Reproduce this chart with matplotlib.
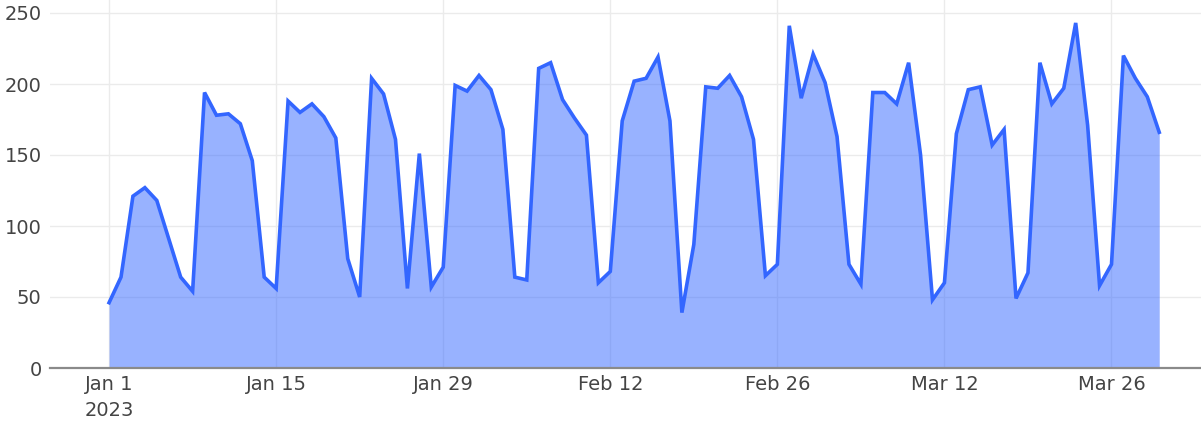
import numpy as np
import pandas as pd
import matplotlib
matplotlib.use('Agg')
import matplotlib.pyplot as plt

# daily values, Jan 1 2023 - Mar 30 2023
values = [46, 64, 121, 127, 118, 91, 64, 54, 194, 178,
          179, 172, 146, 64, 56, 188, 180, 186, 177, 162,
          77, 50, 204, 193, 161, 56, 151, 57, 71, 199,
          195, 206, 196, 168, 64, 62, 211, 215, 189, 176,
          164, 60, 68, 174, 202, 204, 219, 174, 39, 87,
          198, 197, 206, 191, 161, 65, 73, 241, 190, 221,
          201, 163, 73, 59, 194, 194, 186, 215, 150, 48,
          60, 165, 196, 198, 157, 168, 49, 67, 215, 186,
          197, 243, 171, 58, 73, 220, 204, 191, 166]
dates = pd.date_range('2023-01-01', periods=len(values), freq='D')

tick_dates = pd.to_datetime(['2023-01-01', '2023-01-15', '2023-01-29', '2023-02-12',
                             '2023-02-26', '2023-03-12', '2023-03-26'])
tick_labels = ['Jan 1\n2023', 'Jan 15', 'Jan 29', 'Feb 12', 'Feb 26', 'Mar 12', 'Mar 26']
y_ticks = [0, 50, 100, 150, 200, 250]

line_color = '#3366ff'
text_color = '#444444'
grid_color = '#ebebeb'

fig = plt.figure(figsize=(12.01, 4.29), dpi=100)
ax = fig.add_axes([50 / 1201, 1 - 368 / 429, 1151 / 1201, 368 / 429])

# area + line
ax.fill_between(dates, values, 0, color=line_color, alpha=0.5, linewidth=0, zorder=2)
ax.plot(dates, values, color=line_color, linewidth=2.6, solid_joinstyle='miter', zorder=3)

x0 = dates[0] - pd.Timedelta(days=4.95)
x1 = dates[0] + pd.Timedelta(days=91.5)
ax.set_xlim(x0, x1)
ax.set_ylim(0, 368 / 1.42)

ax.set_xticks(tick_dates)
ax.set_xticklabels(tick_labels, ha='center', va='top', linespacing=1.5)
ax.set_yticks(y_ticks)
ax.grid(True, color=grid_color, linewidth=1, zorder=0)
ax.set_axisbelow(True)

for s in ['top', 'right', 'left']:
    ax.spines[s].set_visible(False)
ax.spines['bottom'].set_color('#8a8a8a')
ax.spines['bottom'].set_linewidth(1.6)
ax.spines['bottom'].set_zorder(4)

ax.tick_params(axis='both', length=0, labelsize=14, labelcolor=text_color)
ax.tick_params(axis='x', pad=5)
ax.tick_params(axis='y', pad=6)

plt.savefig('out.png', dpi=100)
